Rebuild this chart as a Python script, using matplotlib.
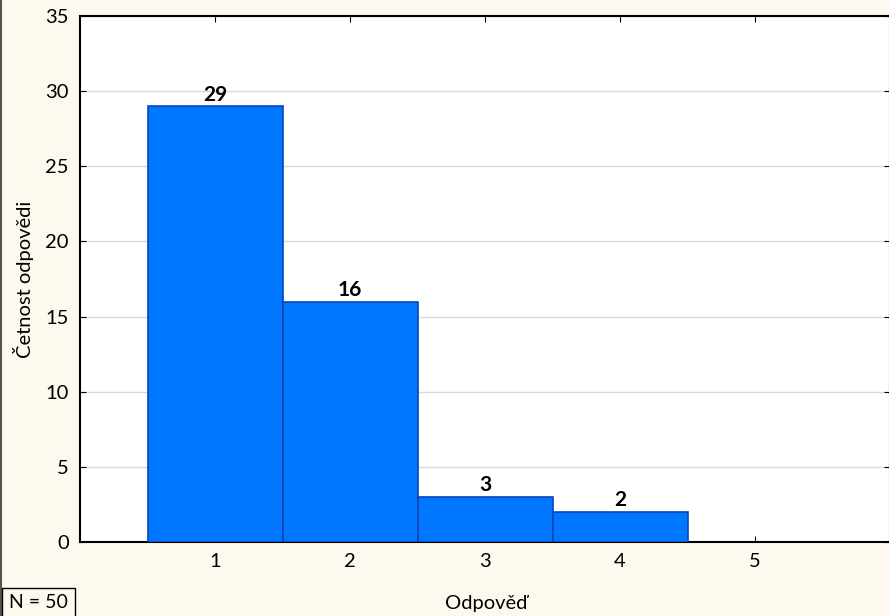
import matplotlib.pyplot as plt

# Données : réponses et effectifs
odpovedi = [1, 2, 3, 4]
cetnosti = [29, 16, 3, 2]
n_total = 50

plt.rcParams['font.family'] = ['Lato', 'DejaVu Sans']

fig = plt.figure(figsize=(8.89, 6.16), dpi=100)
fig.patch.set_facecolor('#FDF9EE')
ax = fig.add_axes([80 / 889, (616 - 542) / 616, 810 / 889, 526 / 616])
ax.set_facecolor('white')

bars = ax.bar(odpovedi, cetnosti, width=1.0, color='#0077FF', edgecolor='#0B45B5', linewidth=1.2, zorder=3)
for b, v in zip(bars, cetnosti):
    ax.text(b.get_x() + b.get_width() / 2, v + 0.1, str(v), ha='center', va='bottom',
            fontsize=15, fontweight='bold', zorder=4)

ax.set_xlim(0, 6)
ax.set_ylim(0, 35)
ax.set_xticks([1, 2, 3, 4, 5])
ax.set_yticks(range(0, 36, 5))
ax.tick_params(axis='both', direction='in', labelsize=14.5, length=4, top=True, right=True, pad=8)
ax.grid(axis='y', color='#D9D9D9', linewidth=1, zorder=0)
for s in ax.spines.values():
    s.set_linewidth(1.5)

ax.set_ylabel("Četnost odpovědi", fontsize=14.5, labelpad=8)
fig.text(486 / 889, 1 - 604 / 616, "Odpověď", ha='center', va='center', fontsize=14.5)
fig.text(9 / 889, 1 - 603 / 616, f"N = {n_total}", ha='left', va='center', fontsize=14,
         bbox=dict(boxstyle='square,pad=0.35', facecolor='#FDF9EE', edgecolor='black', linewidth=1))

# trait sombre au bord gauche
fig.add_artist(plt.Line2D([0.001, 0.001], [0, 1], color='#555555', linewidth=1.5))

fig.savefig('out.png', dpi=100, facecolor=fig.get_facecolor())
